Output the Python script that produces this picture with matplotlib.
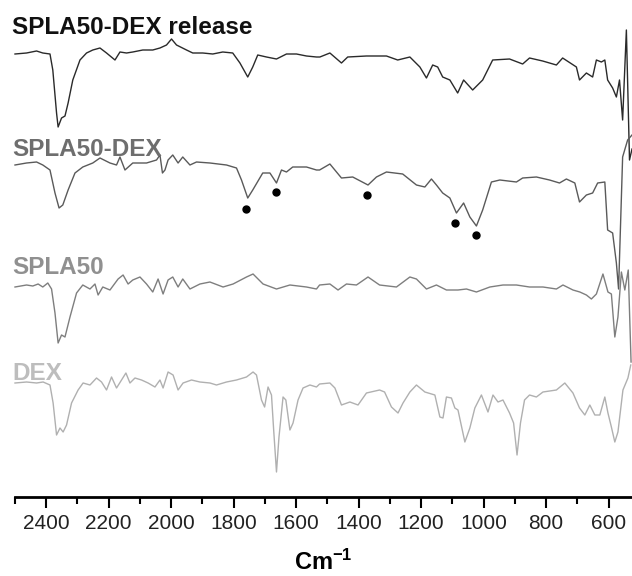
import numpy as np
import matplotlib
matplotlib.use("Agg")
from matplotlib import pyplot as plt
from matplotlib.ticker import MultipleLocator

plt.rcParams['mathtext.default'] = 'regular'

# wavenumbers (cm-1) and relative transmittance (a.u.)
rel_w = [2500, 2463, 2431, 2411, 2388, 2379, 2367, 2362, 2351, 2340, 2330, 2315, 2292, 2271,
         2251, 2228, 2207, 2180, 2164, 2143, 2123, 2091, 2059, 2036, 2015, 1999, 1983, 1951,
         1931, 1899, 1867, 1835, 1803, 1780, 1755, 1739, 1723, 1695, 1663, 1631, 1599, 1567,
         1535, 1524, 1492, 1455, 1435, 1375, 1311, 1275, 1236, 1204, 1183, 1163, 1147, 1131,
         1108, 1083, 1064, 1035, 1003, 971, 917, 875, 853, 811, 767, 747, 703, 693, 671, 651,
         639, 623, 612, 603, 587, 575, 565, 555, 543, 533, 525]
rel_t = [0, 1, 3, 1, 0, -16, -59, -73, -64, -62, -49, -26, -6, 1,
         4, 6, 1, -6, 2, 1, 2, 4, 4, 6, 9, 15, 9, 4,
         1, 1, 0, 2, 1, -9, -23, -13, -1, -3, -5, 0, 0, -2,
         -3, -3, 1, -9, -3, -2, -2, -6, -3, -13, -24, -11, -13, -23,
         -26, -39, -26, -36, -26, -6, -5, -10, -4, -7, -11, -4, -13, -26, -19, -23,
         -6, -8, -6, -26, -34, -43, -26, -66, 24, -106, -95]

sd_w = [2500, 2463, 2431, 2411, 2388, 2372, 2359, 2347, 2330, 2308, 2283, 2251, 2228, 2196,
        2175, 2164, 2148, 2123, 2079, 2047, 2036, 2028, 2020, 2010, 1995, 1978, 1963, 1940,
        1919, 1876, 1823, 1791, 1775, 1755, 1739, 1707, 1684, 1663, 1647, 1631, 1611, 1567,
        1535, 1525, 1492, 1455, 1419, 1370, 1343, 1311, 1259, 1215, 1188, 1167, 1151, 1131,
        1108, 1087, 1064, 1044, 1023, 1003, 975, 948, 895, 875, 831, 789, 757, 735, 708,
        693, 671, 651, 635, 612, 603, 587, 575, 568, 555, 539, 525]
sd_t = [0, 2, 3, 0, -5, -28, -43, -40, -25, -8, -2, 2, 7, 2,
        0, 8, -5, 2, 2, 5, 10, -8, -5, 5, 10, 2, 8, 0,
        3, 2, 0, -3, -15, -33, -25, -8, -8, -18, -5, -7, -2, -2,
        -5, -5, 1, -13, -12, -20, -12, -7, -9, -20, -22, -14, -20, -28,
        -33, -48, -38, -52, -61, -45, -17, -15, -17, -13, -12, -15, -18, -14, -18,
        -37, -30, -28, -18, -17, -65, -68, -98, -124, 8, 25, 30]

# marked bands on SPLA50-DEX
dot_w = [1762, 1665, 1373, 1090, 1025]
dot_t = [-44, -27, -30, -58, -70]

sp_w = [2500, 2463, 2443, 2426, 2411, 2395, 2383, 2372, 2362, 2351, 2340, 2324, 2303, 2283,
        2260, 2244, 2234, 2219, 2196, 2170, 2154, 2138, 2123, 2100, 2079, 2059, 2042, 2026,
        2010, 1995, 1978, 1963, 1940, 1908, 1876, 1834, 1802, 1759, 1738, 1706, 1663, 1620,
        1567, 1535, 1525, 1492, 1466, 1439, 1407, 1370, 1333, 1279, 1236, 1215, 1183, 1151,
        1119, 1082, 1055, 1023, 980, 938, 895, 853, 810, 767, 746, 714, 692, 671, 655, 639,
        618, 602, 591, 580, 570, 559, 548, 537, 528]
sp_t = [0, 2, 1, 3, 0, 4, -2, -26, -56, -48, -50, -30, -6, 2,
        -2, 3, -8, 0, -3, 8, 12, 3, 7, 10, 3, -5, 8, -7,
        7, 10, 0, 8, -2, 3, 5, 0, 3, 10, 13, 3, -2, 2,
        0, -2, 2, 3, -3, 3, 2, 10, 2, 0, 10, 8, -2, 2,
        -3, -3, -2, -5, 0, 2, 2, 0, 0, -2, 2, -3, -5, -8, -12, -7,
        13, -5, -7, -50, -30, 15, -3, 17, -75]

dex_w = [2500, 2463, 2431, 2410, 2388, 2378, 2367, 2356, 2346, 2335, 2319, 2298, 2282, 2260,
         2239, 2223, 2207, 2191, 2175, 2159, 2145, 2132, 2116, 2095, 2074, 2052, 2036, 2026,
         2010, 1994, 1978, 1962, 1935, 1908, 1876, 1855, 1823, 1791, 1759, 1738, 1727, 1711,
         1701, 1690, 1679, 1672, 1663, 1655, 1642, 1633, 1620, 1610, 1594, 1578, 1556, 1535,
         1525, 1492, 1476, 1455, 1428, 1402, 1375, 1333, 1317, 1295, 1274, 1258, 1236, 1215,
         1188, 1156, 1140, 1130, 1119, 1103, 1092, 1082, 1060, 1044, 1028, 1007, 986, 970,
         954, 938, 917, 904, 893, 882, 869, 853, 831, 810, 767, 740, 714, 693, 676, 660, 644,
         628, 612, 602, 591, 580, 570, 554, 538, 529]
dex_t = [0, 1, 0, 1, -2, -20, -52, -45, -49, -42, -20, -7, 0, -2,
         5, 1, -7, 6, -5, 3, 10, 0, 5, 3, 0, -4, 3, -5,
         11, 8, -7, 0, 3, 1, 0, -2, 1, 3, 6, 11, 8, -17,
         -24, -4, -12, -47, -89, -54, -14, -17, -47, -40, -17, -5, -2, -4,
         -1, 0, -5, -22, -19, -22, -10, -7, -9, -24, -30, -20, -9, -2,
         -9, -12, -34, -35, -14, -15, -25, -27, -59, -45, -25, -12, -29, -12,
         -19, -17, -30, -40, -72, -40, -17, -12, -14, -9, -7, 0, -10, -25, -32, -22, -32,
         -32, -14, -30, -44, -59, -49, -7, 5, 18]

names = ["SPLA50-DEX release", "SPLA50-DEX", "SPLA50", "DEX"]
offsets = [443, 332, 210, 114]
line_colors = ["#2a2a2a", "#5a5a5a", "#7e7e7e", "#b0b0b0"]
label_colors = ["#111111", "#6e6e6e", "#909090", "#bdbdbd"]
label_y = [470, 347, 230, 123]

W, H = 632, 576
fig = plt.figure(figsize=(W / 100, H / 100), dpi=100)
ax = fig.add_axes([15 / W, 79 / H, 617 / W, 497 / H])

series = [(rel_w, rel_t), (sd_w, sd_t), (sp_w, sp_t), (dex_w, dex_t)]
for (w, t), off, c in zip(series, offsets, line_colors):
    ax.plot(w, np.array(t) + off, color=c, lw=1.0, clip_on=False)

ax.plot(dot_w, np.array(dot_t) + offsets[1], "o", color="black", ms=5)

for name, y, c in zip(names, label_y, label_colors):
    ax.text(2510, y, name, color=c, fontsize=17.5, fontweight="bold",
            family="Liberation Sans", ha="left", va="center")

ax.set_xlim(2500, 525)
ax.set_ylim(0, 497)
ax.xaxis.set_minor_locator(MultipleLocator(100))
ax.set_xticks(np.arange(600, 2401, 200))
ax.tick_params(axis="x", which="major", direction="out", length=8, width=1.5,
               labelsize=15, pad=4)
ax.tick_params(axis="x", which="minor", direction="out", length=5, width=1.5)
for lab in ax.get_xticklabels():
    lab.set_family("Liberation Sans")
    lab.set_color("#222222")
ax.set_yticks([])
for s in ["left", "top", "right"]:
    ax.spines[s].set_visible(False)
ax.spines["bottom"].set_linewidth(2)
ax.set_xlabel("Cm$^{-1}$", fontsize=17, fontweight="bold", family="Liberation Sans",
              labelpad=12)

fig.savefig("out.png", dpi=100)
